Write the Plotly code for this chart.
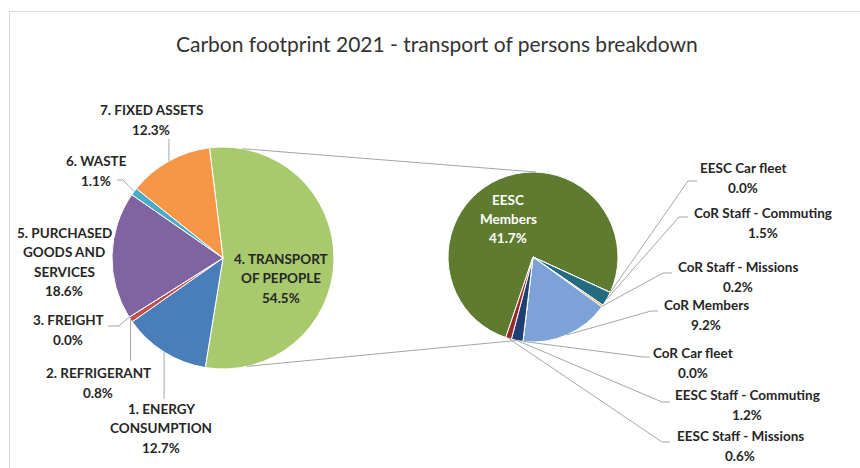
import math
import plotly.graph_objects as go

# ---------------- data ----------------
main_labels = ["4. TRANSPORT<br>OF PEPOPLE", "1. ENERGY<br>CONSUMPTION", "2. REFRIGERANT",
               "3. FREIGHT", "5. PURCHASED<br>GOODS AND<br>SERVICES", "6. WASTE", "7. FIXED ASSETS"]
main_values = [54.5, 12.7, 0.8, 0.0, 18.6, 1.1, 12.3]
main_colors = ["#A8C96C", "#4A7EBB", "#C0504D", "#9BBB59", "#8064A2", "#4BACC6", "#F79646"]

sub_labels = ["EESC<br>Members", "EESC Car fleet", "CoR Staff - Commuting", "CoR Staff - Missions",
              "CoR Members", "CoR Car fleet", "EESC Staff - Commuting", "EESC Staff - Missions"]
sub_values = [41.7, 0.0, 1.5, 0.2, 9.2, 0.0, 1.2, 0.6]
sub_colors = ["#5F7B2F", "#9BBB59", "#236B80", "#E3A457", "#7DA2D8", "#B0B0B0", "#1F3F74", "#962C2A"]

title = "Carbon footprint 2021 - transport of persons breakdown"

# ---------------- layout geometry ----------------
W, H = 860, 468
FONT = "Lato"
main_c, main_r, main_rot = (223, 258), 111, -7
sub_c, sub_r, sub_rot = (533, 257), 85, 198.7
GRAY = "#A6A6A6"
LINE_H = 19.5

def px2paper(x, y):
    return x / W, 1 - y / H

def domain(c, r):
    return dict(x=[(c[0] - r) / W, (c[0] + r) / W], y=[1 - (c[1] + r) / H, 1 - (c[1] - r) / H])

def mid_angles(values, rot):
    tot = sum(values)
    a = rot
    out = []
    for v in values:
        span = 360 * v / tot
        out.append(a + span / 2)
        a += span
    return out

def on_circle(c, r, ang):
    t = math.radians(ang)
    return c[0] + r * math.sin(t), c[1] - r * math.cos(t)

fig = go.Figure()
fig.add_trace(go.Pie(values=main_values, labels=[l.replace("<br>", " ") for l in main_labels],
                     marker=dict(colors=main_colors, line=dict(color="white", width=1)),
                     sort=False, direction="clockwise", rotation=main_rot, textinfo="none",
                     domain=domain(main_c, main_r), showlegend=False, hoverinfo="label+percent"))
fig.add_trace(go.Pie(values=sub_values, labels=[l.replace("<br>", " ") for l in sub_labels],
                     marker=dict(colors=sub_colors, line=dict(color="white", width=1)),
                     sort=False, direction="clockwise", rotation=sub_rot, textinfo="none",
                     domain=domain(sub_c, sub_r), showlegend=False, hoverinfo="label"))

shapes = []
# border
shapes.append(dict(type="rect", xref="paper", yref="paper", x0=9.5 / W, y0=-0.1, x1=1.1,
                   y1=1 - 11.5 / H, line=dict(color="#D9D9D9", width=1)))

def polyline(pts):
    p = [px2paper(*q) for q in pts]
    path = "M " + " L ".join(f"{x:.5f},{y:.5f}" for x, y in p)
    shapes.append(dict(type="path", xref="paper", yref="paper", path=path,
                       line=dict(color=GRAY, width=1)))

# connector lines between the pies
polyline([on_circle(main_c, main_r, 10), on_circle(sub_c, sub_r, 2)])
polyline([on_circle(main_c, main_r, 167.5), on_circle(sub_c, sub_r, 191)])

annotations = []
def label(text, x, y, color="#262626", size=13.5):
    lines = text.split("<br>")
    n = len(lines)
    for k, ln in enumerate(lines):
        ly = y + (k - (n - 1) / 2) * LINE_H
        ax, ay = px2paper(x, ly)
        annotations.append(dict(text=f"<b>{ln}</b>", x=ax, y=ay, xref="paper", yref="paper",
                                xanchor="center", yanchor="middle", showarrow=False,
                                font=dict(family=FONT, size=size, color=color)))

# main pie labels: centre of text block, and leader spec
main_mid = mid_angles(main_values, main_rot)
main_pos = [(281, 278), (161, 428), (98, 383), (68, 330), (64, 262), (96, 171), (151, 120)]
# leader: None, ("v", end_y) vertical from slice, ("e", end_pt, elbow_pt)
main_lead = [None, ("v", 399), ("v", 361), ("e", (108, 326), (119, 326)), None,
             ("e", (117, 180), (123, 180)), ("v", 139)]
for i, (lab, v) in enumerate(zip(main_labels, main_values)):
    label(f"{lab}<br>{v:.1f}%", *main_pos[i])
    sp = on_circle(main_c, main_r, main_mid[i])
    ld = main_lead[i]
    if ld is None:
        continue
    if ld[0] == "v":
        polyline([sp, (sp[0], ld[1])])
    else:
        polyline([sp, ld[2], ld[1]])

sub_mid = mid_angles(sub_values, sub_rot)
sub_pos = [(508, 219), (743, 178), (763, 223), (738, 277), (706, 315), (693, 363), (747, 405), (740, 446)]
sub_lead = [None, ((697, 181), (688, 181)), ((688, 217), (679, 217)), ((672, 273), (663, 273)),
            ((658, 311), (651, 311)), ((650, 357), (643, 357)), ((670, 402), (662, 402)),
            ((670, 442), (662, 442))]
for i, (lab, v) in enumerate(zip(sub_labels, sub_values)):
    label(f"{lab}<br>{v:.1f}%", *sub_pos[i], color="white" if i == 0 else "#262626")
    ld = sub_lead[i]
    if ld is None:
        continue
    sp = on_circle(sub_c, sub_r, sub_mid[i])
    polyline([sp, ld[1], ld[0]])

# title
tx, ty = px2paper(437, 43)
annotations.append(dict(text=title, x=tx, y=ty, xref="paper", yref="paper", xanchor="center",
                        yanchor="middle", showarrow=False,
                        font=dict(family=FONT, size=21, color="#333333")))

fig.update_layout(width=W, height=H, margin=dict(l=0, r=0, t=0, b=0),
                  paper_bgcolor="white", plot_bgcolor="white",
                  shapes=shapes, annotations=annotations)
fig.write_html("out.html", config={"displayModeBar": False},
               post_script="document.body.style.margin='0px';")
